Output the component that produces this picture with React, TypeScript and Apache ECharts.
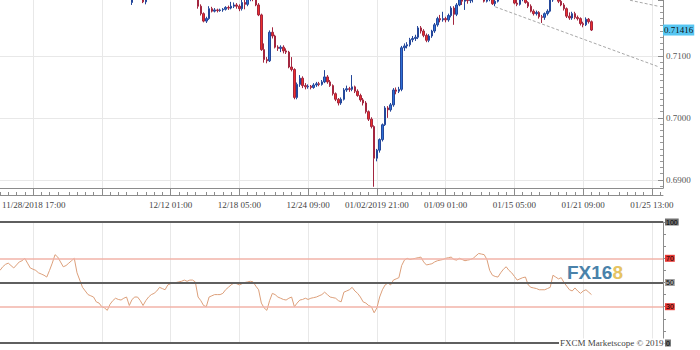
import React, { useEffect, useRef } from 'react';
import * as echarts from 'echarts';

// ---------- DATA ----------
// AUD/USD H4 candles: [open, close, low, high], slot 0 = 11/28/2018 17:00
const CANDLES: number[][] = [
  [0.7245, 0.7265, 0.7238, 0.7270], [0.7265, 0.7295, 0.7260, 0.7300], [0.7295, 0.7310, 0.7290, 0.7316], [0.7310, 0.7318, 0.7304, 0.7324],
  [0.7318, 0.7312, 0.7306, 0.7322], [0.7312, 0.7305, 0.7300, 0.7316], [0.7305, 0.7300, 0.7294, 0.7310], [0.7300, 0.7310, 0.7296, 0.7315],
  [0.7310, 0.7320, 0.7305, 0.7326], [0.7320, 0.7325, 0.7314, 0.7330], [0.7325, 0.7315, 0.7310, 0.7328], [0.7315, 0.7308, 0.7302, 0.7320],
  [0.7320, 0.7345, 0.7318, 0.7350], [0.7345, 0.7358, 0.7340, 0.7362], [0.7358, 0.7365, 0.7352, 0.7370], [0.7365, 0.7372, 0.7360, 0.7378],
  [0.7372, 0.7375, 0.7366, 0.7382], [0.7375, 0.7368, 0.7362, 0.7380], [0.7368, 0.7350, 0.7345, 0.7372], [0.7350, 0.7340, 0.7334, 0.7355],
  [0.7340, 0.7330, 0.7325, 0.7345], [0.7330, 0.7318, 0.7312, 0.7334], [0.7318, 0.7305, 0.7300, 0.7322], [0.7305, 0.7290, 0.7285, 0.7310],
  [0.7290, 0.7285, 0.7278, 0.7296], [0.7285, 0.7270, 0.7265, 0.7290], [0.7270, 0.7260, 0.7254, 0.7275], [0.7260, 0.7250, 0.7244, 0.7265],
  [0.7250, 0.7240, 0.7235, 0.7255], [0.7240, 0.7230, 0.7225, 0.7245], [0.7230, 0.7225, 0.7218, 0.7236], [0.7225, 0.7222, 0.7215, 0.7230],
  [0.7222, 0.7218, 0.7212, 0.7228], [0.7218, 0.7215, 0.7209, 0.7224], [0.7215, 0.7212, 0.7206, 0.7220], [0.7212, 0.7210, 0.7204, 0.7218],
  [0.7210, 0.7208, 0.7202, 0.7216], [0.7208, 0.7212, 0.7203, 0.7218], [0.7212, 0.7215, 0.7206, 0.7220], [0.7215, 0.7218, 0.7209, 0.7224],
  [0.7218, 0.7222, 0.7212, 0.7228], [0.7222, 0.7225, 0.7216, 0.7231], [0.7225, 0.7228, 0.7219, 0.7234], [0.7228, 0.7226, 0.7220, 0.7233],
  [0.7226, 0.7224, 0.7218, 0.7231], [0.7224, 0.7222, 0.7216, 0.7229], [0.7222, 0.7220, 0.7214, 0.7227], [0.7220, 0.7218, 0.7210, 0.7225],
  // 48
  [0.7186, 0.7200, 0.7182, 0.7206], [0.7200, 0.7205, 0.7195, 0.7210], [0.7205, 0.7210, 0.7199, 0.7215], [0.7210, 0.7202, 0.7196, 0.7214],
  [0.7202, 0.7187, 0.7185, 0.7205], [0.7187, 0.7199, 0.7183, 0.7203], [0.7199, 0.7206, 0.7194, 0.7210], [0.7206, 0.7210, 0.7200, 0.7215],
  [0.7210, 0.7205, 0.7199, 0.7214], [0.7205, 0.7212, 0.7200, 0.7218], [0.7212, 0.7220, 0.7207, 0.7225], [0.7220, 0.7215, 0.7209, 0.7224],
  [0.7215, 0.7222, 0.7210, 0.7228], [0.7222, 0.7228, 0.7216, 0.7233], [0.7228, 0.7225, 0.7219, 0.7232], [0.7225, 0.7230, 0.7220, 0.7235],
  [0.7230, 0.7232, 0.7224, 0.7238], [0.7232, 0.7236, 0.7226, 0.7241], [0.7236, 0.7238, 0.7230, 0.7243], [0.7238, 0.7240, 0.7232, 0.7245],
  [0.7240, 0.7236, 0.7230, 0.7244], [0.7236, 0.7238, 0.7230, 0.7243], [0.7238, 0.7235, 0.7228, 0.7242], [0.7235, 0.7212, 0.7206, 0.7238],
  // 72
  [0.7212, 0.7180, 0.7176, 0.7215], [0.7180, 0.7168, 0.7165, 0.7183], [0.7168, 0.7156, 0.7154, 0.7170], [0.7156, 0.7160, 0.7153, 0.7163],
  [0.7160, 0.7176, 0.7158, 0.7180], [0.7176, 0.7172, 0.7170, 0.7179], [0.7172, 0.7174, 0.7170, 0.7177], [0.7174, 0.7173, 0.7170, 0.7176],
  [0.7173, 0.7174, 0.7171, 0.7176], [0.7174, 0.7175, 0.7171, 0.7177], [0.7175, 0.7178, 0.7173, 0.7180], [0.7178, 0.7177, 0.7174, 0.7181],
  [0.7177, 0.7180, 0.7175, 0.7187], [0.7180, 0.7182, 0.7177, 0.7186], [0.7182, 0.7180, 0.7176, 0.7185], [0.7180, 0.7176, 0.7172, 0.7183],
  [0.7176, 0.7186, 0.7173, 0.7192], [0.7186, 0.7183, 0.7175, 0.7195], [0.7183, 0.7192, 0.7180, 0.7198], [0.7192, 0.7196, 0.7188, 0.7200],
  [0.7196, 0.7192, 0.7188, 0.7199], [0.7192, 0.7182, 0.7180, 0.7195], [0.7182, 0.7166, 0.7164, 0.7185], [0.7166, 0.7110, 0.7108, 0.7168],
  // 96
  [0.7110, 0.7094, 0.7089, 0.7120], [0.7094, 0.7092, 0.7088, 0.7098], [0.7092, 0.7138, 0.7090, 0.7141], [0.7138, 0.7132, 0.7128, 0.7146],
  [0.7132, 0.7114, 0.7112, 0.7134], [0.7114, 0.7112, 0.7108, 0.7117], [0.7112, 0.7114, 0.7106, 0.7117], [0.7114, 0.7108, 0.7104, 0.7117],
  [0.7108, 0.7106, 0.7103, 0.7112], [0.7106, 0.7082, 0.7080, 0.7108], [0.7082, 0.7078, 0.7075, 0.7098], [0.7078, 0.7033, 0.7030, 0.7080],
  [0.7033, 0.7054, 0.7030, 0.7057], [0.7054, 0.7064, 0.7050, 0.7069], [0.7064, 0.7052, 0.7048, 0.7067], [0.7052, 0.7050, 0.7046, 0.7056],
  [0.7050, 0.7051, 0.7047, 0.7054], [0.7051, 0.7049, 0.7046, 0.7053], [0.7049, 0.7053, 0.7047, 0.7056], [0.7053, 0.7055, 0.7050, 0.7058],
  [0.7055, 0.7054, 0.7051, 0.7058], [0.7054, 0.7058, 0.7052, 0.7061], [0.7058, 0.7066, 0.7056, 0.7077], [0.7066, 0.7058, 0.7055, 0.7069],
  // 120
  [0.7058, 0.7052, 0.7050, 0.7061], [0.7052, 0.7039, 0.7036, 0.7054], [0.7039, 0.7030, 0.7027, 0.7041], [0.7030, 0.7024, 0.7020, 0.7032],
  [0.7024, 0.7030, 0.7021, 0.7033], [0.7030, 0.7045, 0.7028, 0.7048], [0.7045, 0.7047, 0.7042, 0.7052], [0.7047, 0.7046, 0.7042, 0.7050],
  [0.7046, 0.7050, 0.7043, 0.7069], [0.7050, 0.7043, 0.7040, 0.7052], [0.7043, 0.7036, 0.7034, 0.7046], [0.7036, 0.7029, 0.7026, 0.7039],
  [0.7029, 0.7024, 0.7020, 0.7032], [0.7024, 0.7010, 0.7007, 0.7027], [0.7010, 0.6998, 0.6995, 0.7012], [0.6998, 0.6986, 0.6983, 0.7001],
  [0.6986, 0.6935, 0.6889, 0.6988], [0.6935, 0.6948, 0.6930, 0.6950], [0.6948, 0.6965, 0.6944, 0.6967], [0.6965, 0.6989, 0.6962, 0.6991],
  [0.6989, 0.7016, 0.6987, 0.7019], [0.7016, 0.7013, 0.7000, 0.7019], [0.7013, 0.7021, 0.7010, 0.7024], [0.7021, 0.7045, 0.7018, 0.7048],
  // 144
  [0.7045, 0.7043, 0.7038, 0.7049], [0.7043, 0.7046, 0.7040, 0.7050], [0.7046, 0.7113, 0.7043, 0.7116], [0.7113, 0.7116, 0.7108, 0.7120],
  [0.7116, 0.7118, 0.7112, 0.7122], [0.7118, 0.7126, 0.7115, 0.7129], [0.7126, 0.7128, 0.7122, 0.7132], [0.7128, 0.7130, 0.7124, 0.7134],
  [0.7130, 0.7145, 0.7127, 0.7148], [0.7145, 0.7140, 0.7136, 0.7148], [0.7140, 0.7133, 0.7130, 0.7143], [0.7133, 0.7125, 0.7122, 0.7136],
  [0.7125, 0.7132, 0.7122, 0.7135], [0.7132, 0.7140, 0.7129, 0.7142], [0.7140, 0.7150, 0.7137, 0.7153], [0.7150, 0.7160, 0.7147, 0.7163],
  [0.7160, 0.7158, 0.7154, 0.7166], [0.7158, 0.7160, 0.7155, 0.7171], [0.7160, 0.7158, 0.7154, 0.7163], [0.7158, 0.7165, 0.7155, 0.7168],
  [0.7165, 0.7177, 0.7162, 0.7180], [0.7177, 0.7167, 0.7150, 0.7180], [0.7167, 0.7182, 0.7164, 0.7185], [0.7182, 0.7192, 0.7180, 0.7198],
  // 168
  [0.7192, 0.7188, 0.7182, 0.7197], [0.7188, 0.7190, 0.7174, 0.7196], [0.7190, 0.7189, 0.7184, 0.7196], [0.7189, 0.7192, 0.7185, 0.7198],
  [0.7192, 0.7194, 0.7186, 0.7200], [0.7194, 0.7198, 0.7191, 0.7205], [0.7198, 0.7200, 0.7193, 0.7206], [0.7200, 0.7196, 0.7192, 0.7204],
  [0.7196, 0.7188, 0.7186, 0.7200], [0.7188, 0.7192, 0.7186, 0.7198], [0.7192, 0.7194, 0.7188, 0.7199], [0.7194, 0.7184, 0.7182, 0.7197],
  [0.7184, 0.7188, 0.7180, 0.7195], [0.7188, 0.7196, 0.7186, 0.7200], [0.7196, 0.7200, 0.7193, 0.7206], [0.7200, 0.7203, 0.7196, 0.7208],
  [0.7203, 0.7199, 0.7195, 0.7207], [0.7199, 0.7202, 0.7195, 0.7206], [0.7202, 0.7198, 0.7194, 0.7205], [0.7198, 0.7185, 0.7183, 0.7200],
  [0.7185, 0.7183, 0.7180, 0.7192], [0.7183, 0.7192, 0.7181, 0.7196], [0.7192, 0.7195, 0.7188, 0.7200], [0.7195, 0.7186, 0.7184, 0.7198],
  // 192
  [0.7186, 0.7180, 0.7177, 0.7188], [0.7180, 0.7172, 0.7170, 0.7183], [0.7172, 0.7168, 0.7165, 0.7175], [0.7168, 0.7170, 0.7165, 0.7173],
  [0.7170, 0.7163, 0.7160, 0.7172], [0.7163, 0.7162, 0.7153, 0.7166], [0.7162, 0.7168, 0.7158, 0.7170], [0.7168, 0.7172, 0.7165, 0.7175],
  [0.7172, 0.7190, 0.7170, 0.7195], [0.7190, 0.7196, 0.7187, 0.7202], [0.7196, 0.7198, 0.7192, 0.7205], [0.7198, 0.7188, 0.7185, 0.7202],
  [0.7188, 0.7182, 0.7180, 0.7192], [0.7182, 0.7176, 0.7173, 0.7185], [0.7176, 0.7164, 0.7161, 0.7178], [0.7164, 0.7161, 0.7158, 0.7170],
  [0.7161, 0.7168, 0.7158, 0.7171], [0.7168, 0.7162, 0.7159, 0.7171], [0.7162, 0.7160, 0.7157, 0.7165], [0.7160, 0.7152, 0.7149, 0.7162],
  [0.7152, 0.7150, 0.7146, 0.7155], [0.7150, 0.7159, 0.7148, 0.7162], [0.7159, 0.7155, 0.7152, 0.7161], [0.7155, 0.71416, 0.7140, 0.7157],
];

// RSI values, one per candle slot
const RSI: number[] = [
  60, 63, 65, 66, 64, 62, 64.5, 67, 68, 70,
  66, 62, 61, 60, 58, 57, 56, 54.5, 60, 66,
  73, 71, 67, 63, 64, 66, 68, 70, 58, 52,
  46, 43, 40, 39, 38, 34, 33, 30, 29, 27,
  32, 35, 37, 36, 35.5, 37, 38, 31, 36, 38,
  38, 35, 31, 35, 38, 40, 41, 43, 46, 45,
  44, 48, 49, 49.5, 50, 50.5, 51, 52, 51, 52,
  52, 50.5, 38, 35, 31, 30, 38, 39, 40, 40,
  40, 41, 44, 46, 48, 49.5, 49, 48, 49, 50,
  50.5, 51, 50.5, 47, 44, 33, 29, 27, 35, 41,
  40, 38, 37, 36, 35.5, 37, 38, 30, 33, 35.5,
  36, 37, 36, 37, 37.5, 38, 39, 40, 42, 40,
  38, 37.5, 37, 35, 34, 42, 43, 44, 46, 43,
  41, 38, 34, 33, 31, 30, 25, 29, 38, 44,
  48, 49.5, 48, 52, 53, 54, 64, 68.5, 70, 69,
  69.5, 70, 70.5, 71, 67, 64.5, 65, 65.5, 67, 68,
  68.5, 69, 70, 70.5, 71, 69, 68.5, 70, 69, 68,
  68.5, 69, 70, 72, 74, 73.5, 73, 69, 60, 56,
  55, 54.5, 58, 61, 63, 60, 58, 55, 52, 53,
  54, 54.5, 48, 46, 45.5, 45, 44, 44, 44, 45,
  46, 56, 54.5, 53, 54, 50, 47, 44, 43, 45.5,
  43, 41, 43, 44, 42, 40,
];

const SLOT_COUNT = 242;
const MAJOR_FIRST = 12; // 12/02 17:00
const MAJOR_STEP = 25;
const MINOR_OFFSETS = [0, 3, 6, 9, 13, 16, 19, 22];
const TICK_INDEX = [62, 87, 112, 137, 162, 187, 212, 237];
const TICK_LABELS = ['12/12 01:00', '12/18 05:00', '12/24 09:00', '01/02/2019 21:00', '01/09 01:00', '01/15 05:00', '01/21 09:00', '01/25 13:00'];
const FIRST_LABEL = '11/28/2018 17:00';
const RSI_LEVELS = [100, 70, 50, 30, 0];
const LAST_PRICE = 0.71416;
const TREND_LOWER = [[180, 0.7179], [239, 0.7083]];
const TREND_UPPER = [[229, 0.71896], [239, 0.71802]];
const PRICE_MIN = 0.6887;
const PRICE_MAX = 0.719;

const SERIF = '"Liberation Serif", "Times New Roman", serif';

export default function App() {
  const ref = useRef<HTMLDivElement>(null);
  useEffect(() => {
    if (!ref.current) return;
    const chart = echarts.init(ref.current, undefined, { renderer: 'svg' });
    const cats = Array.from({ length: SLOT_COUNT }, (_, i) => String(i));
    const isMajor = (i: number) => i >= MAJOR_FIRST && (i - MAJOR_FIRST) % MAJOR_STEP === 0;
    const isMinor = (i: number) => {
      const o = (((i - MAJOR_FIRST) % MAJOR_STEP) + MAJOR_STEP) % MAJOR_STEP;
      return MINOR_OFFSETS.includes(o);
    };
    const labelAt = new Map<number, string>(TICK_INDEX.map((idx, k) => [idx, TICK_LABELS[k]]));
    const levelDark = (v: number) => v === 100 || v === 50 || v === 0;

    const option: any = {
      animation: false,
      backgroundColor: '#ffffff',
      grid: [
        { left: -16.8, right: 37, top: 0, height: 188 },
        { left: -16.8, right: 37, top: 222, height: 121 },
      ],
      xAxis: [
        {
          type: 'category', gridIndex: 0, data: cats, boundaryGap: false,
          axisLine: { show: true, lineStyle: { color: '#8c8c8c', width: 1 } },
          axisTick: { show: true, interval: (i: number) => isMajor(i), length: 7, lineStyle: { color: '#8c8c8c' } },
          axisLabel: {
            show: true, interval: (i: number) => labelAt.has(i),
            formatter: (_v: string, i: number) => labelAt.get(i) ?? '',
            fontFamily: SERIF, fontSize: 9, color: '#444', margin: 12,
          },
          splitLine: { show: true, interval: (i: number) => isMajor(i), lineStyle: { color: '#e8e8e8', width: 1 } },
        },
        {
          type: 'category', gridIndex: 0, data: cats, boundaryGap: false, position: 'bottom', offset: 7,
          axisLine: { show: true, lineStyle: { color: '#8c8c8c', width: 1 } },
          axisTick: { show: true, inside: true, length: 3, interval: (i: number) => isMinor(i), lineStyle: { color: '#8c8c8c' } },
          axisLabel: { show: false },
          splitLine: { show: false },
        },
        {
          type: 'category', gridIndex: 1, data: cats, boundaryGap: false,
          axisLine: { show: false }, axisTick: { show: false }, axisLabel: { show: false },
          splitLine: { show: true, interval: (i: number) => isMajor(i), lineStyle: { color: '#e8e8e8', width: 1 } },
        },
      ],
      yAxis: [
        {
          type: 'value', gridIndex: 0, position: 'right', min: PRICE_MIN, max: PRICE_MAX, splitNumber: 3,
          axisLine: { show: true, lineStyle: { color: '#8c8c8c' } },
          axisTick: { show: true, inside: true, length: 5, lineStyle: { color: '#8c8c8c' } },
          minorTick: { show: true, splitNumber: 10, length: 3, lineStyle: { color: '#9a9a9a' } },
          splitLine: { show: true, showMinLine: false, showMaxLine: false, lineStyle: { color: '#e8e8e8' } },
          axisLabel: {
            show: true, showMinLabel: false, showMaxLabel: false, margin: 3,
            fontFamily: SERIF, fontSize: 9, color: '#555',
            formatter: (v: number) => (Math.abs(v * 100 - Math.round(v * 100)) < 1e-6 ? v.toFixed(4) : ''),
          },
        },
        {
          type: 'value', gridIndex: 1, position: 'right', min: 0, max: 100, interval: 10,
          axisLine: { show: true, lineStyle: { color: '#8c8c8c' } },
          axisTick: { show: true, length: 3, lineStyle: { color: '#8c8c8c' } },
          axisLabel: { show: false },
          splitLine: { show: false },
        },
      ],
      series: [
        {
          type: 'candlestick', xAxisIndex: 0, yAxisIndex: 0, data: CANDLES, barWidth: 2, clip: true,
          itemStyle: {
            color: '#2f6fd6', color0: '#ee2f2a',
            borderColor: '#24479a', borderColor0: '#a3263f', borderWidth: 1,
          },
          markLine: {
            silent: true, symbol: ['none', 'none'], animation: false, precision: 5,
            lineStyle: { color: '#a8a8a8', type: [3, 2], width: 1 },
            label: { show: false },
            data: [
              {
                yAxis: LAST_PRICE,
                lineStyle: { color: 'rgba(255,255,255,0)', width: 0 },
                label: {
                  show: true, position: 'end', distance: 0, formatter: LAST_PRICE.toFixed(5),
                  backgroundColor: '#57c6f2', color: '#111', fontFamily: SERIF, fontSize: 9, padding: [1, 1],
                },
              },
              [{ coord: TREND_LOWER[0] }, { coord: TREND_LOWER[1] }],
              [{ coord: TREND_UPPER[0] }, { coord: TREND_UPPER[1] }],
            ],
          },
        },
        {
          type: 'line', xAxisIndex: 2, yAxisIndex: 1, data: RSI, showSymbol: false, symbol: 'none', clip: true,
          lineStyle: { color: '#dc9f7a', width: 1 },
          z: 3,
          markLine: {
            silent: true, symbol: ['none', 'none'], animation: false,
            data: RSI_LEVELS.map((v) => ({
              yAxis: v,
              lineStyle: levelDark(v)
                ? { color: '#5f5f5f', width: 2, type: 'solid' }
                : { color: '#f2b3a8', width: 1.5, type: 'solid' },
              label: {
                show: true, position: 'end', distance: 2, formatter: String(v),
                backgroundColor: levelDark(v) ? (v === 50 ? '#a0a0a0' : '#6e6e6e') : '#e83a36',
                color: '#000', fontSize: 7, fontFamily: '"Liberation Sans", sans-serif', padding: [0, 1],
              },
            })),
          },
        },
      ],
      graphic: [
        {
          type: 'text', x: 2, y: 205, z: 10,
          style: { text: FIRST_LABEL, font: `9px ${SERIF}`, fill: '#444', verticalAlign: 'middle', align: 'left' },
        },
        {
          type: 'text', x: 567, y: 272, z: 10,
          style: {
            text: '{a|FX16}{b|8}', verticalAlign: 'middle', align: 'left',
            rich: {
              a: { fill: '#4a82aa', fontSize: 19, fontWeight: 'bold', fontFamily: '"Liberation Sans", Arial, sans-serif' },
              b: { fill: '#e6c463', fontSize: 19, fontWeight: 'bold', fontFamily: '"Liberation Sans", Arial, sans-serif' },
            },
          },
        },
        {
          type: 'text', x: 559, y: 343, z: 100,
          style: {
            text: 'FXCM Marketscope © 2019', font: `9px ${SERIF}`, fill: '#444',
            backgroundColor: '#ffffff', padding: [0, 1], verticalAlign: 'middle', align: 'left',
          },
        },
      ],
    };
    chart.setOption(option);
    return () => chart.dispose();
  }, []);
  return (
    <div
      ref={ref}
      style={{ position: 'fixed', left: 0, top: 0, width: 700, height: 350, background: '#fff' }}
    />
  );
}
